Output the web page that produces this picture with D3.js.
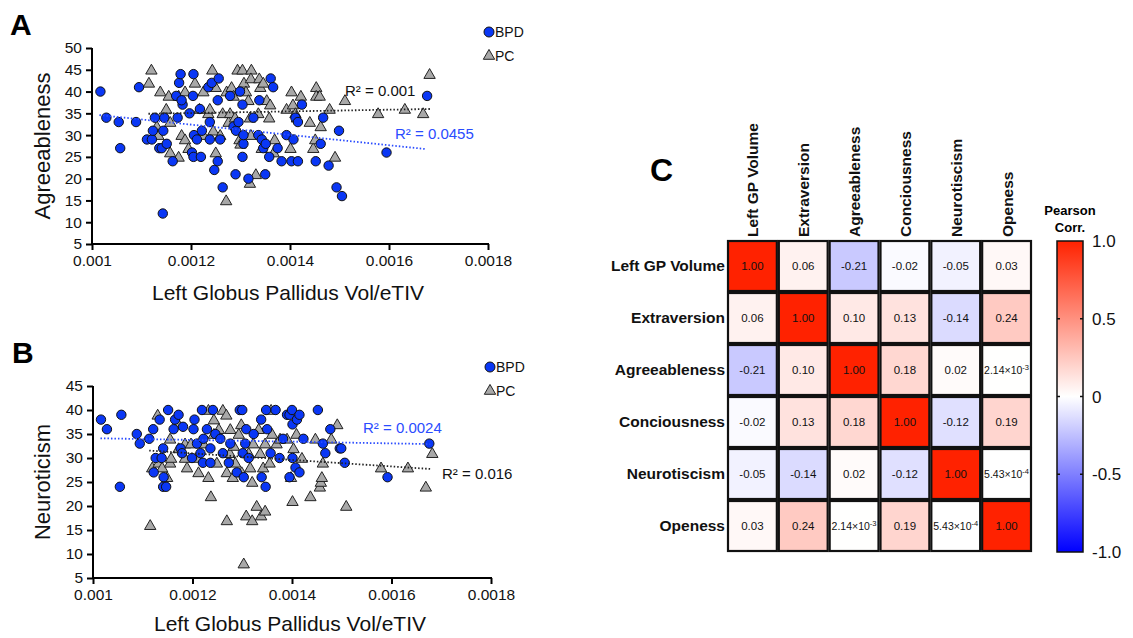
<!DOCTYPE html>
<html>
<head>
<meta charset="utf-8">
<script src="https://d3js.org/d3.v7.min.js"></script>
<style>
  body { margin: 0; background: #fff; }
  svg { font-family: "Liberation Sans", Arial, sans-serif; }
</style>
</head>
<body>
<svg width="1133" height="638"></svg>
<script>
// ---- data: panel A (Agreeableness vs Left GP Vol/eTIV) ----
const agreeBPD = [
  [0.001017,40],[0.001029,34],[0.001054,33],[0.001057,27],[0.001089,33],[0.001095,41],[0.001127,34],
  [0.001111,29],[0.001121,29],[0.001123,31],[0.001136,27],[0.001141,27],[0.001144,31],[0.001146,34],
  [0.001151,28],[0.001143,12],[0.001163,24],[0.001173,34],[0.001170,39],[0.001176,42],[0.001179,44],
  [0.001183,37],[0.001181,38],[0.001197,35],[0.001205,44],[0.001204,39],[0.001206,30],[0.001202,26],
  [0.001205,25],[0.001220,25],[0.001218,36],[0.001212,29],[0.001222,31],[0.001238,29],[0.001235,41],
  [0.001242,42],[0.001238,33],[0.001247,22],[0.001254,24],[0.001256,43],[0.001254,38],[0.001259,29],
  [0.001264,18],[0.001279,39],[0.001286,32],[0.001290,21],[0.001291,31],[0.001296,33],[0.001299,40],
  [0.001304,37],[0.001306,28],[0.001304,25],[0.001306,30],[0.001316,20],[0.001326,34],[0.001336,30],
  [0.001338,38],[0.001343,29],[0.001346,27],[0.001350,21],[0.001351,28],[0.001361,43],[0.001366,41],
  [0.001358,25],[0.001375,27],[0.001383,24],[0.001393,30],[0.001403,24],[0.001407,29],[0.001416,24],
  [0.001411,34],[0.001416,33],[0.001424,37],[0.001452,24],[0.001462,28],[0.001467,34],[0.001478,23],
  [0.001494,18],[0.001499,31],[0.001505,16],[0.001595,26],[0.001677,39]
];
const agreePC = [
  [0.001120,45],[0.001115,42],[0.001138,40],[0.001150,36],[0.001155,39],[0.001131,32],[0.001134,30],
  [0.001158,33],[0.001158,26],[0.001175,25],[0.001175,39],[0.001181,30],[0.001188,29],[0.001188,40],
  [0.001195,27],[0.001208,42],[0.001217,36],[0.001225,40],[0.001225,30],[0.001235,35],[0.001238,36],
  [0.001243,45],[0.001245,31],[0.001250,41],[0.001250,26],[0.001259,30],[0.001264,35],[0.001271,15],
  [0.001272,40],[0.001276,33],[0.001279,35],[0.001282,41],[0.001286,39],[0.001289,34],[0.001294,45],
  [0.001298,29],[0.001300,28],[0.001304,45],[0.001307,42],[0.001311,40],[0.001316,38],[0.001319,34],
  [0.001319,19],[0.001321,30],[0.001322,45],[0.001321,43],[0.001331,21],[0.001336,35],[0.001338,43],
  [0.001340,41],[0.001343,27],[0.001346,42],[0.001353,38],[0.001358,34],[0.001360,37],[0.001367,26],
  [0.001369,29],[0.001393,36],[0.001401,27],[0.001403,40],[0.001406,37],[0.001411,35],[0.001414,34],
  [0.001422,39],[0.001440,33],[0.001447,27],[0.001451,29],[0.001453,41],[0.001453,39],[0.001460,39],
  [0.001462,32],[0.001480,36],[0.001491,25],[0.001511,38],[0.001578,35],[0.001632,36],[0.001669,35],
  [0.001682,44]
];
const agreeTrendBPD = [[0.001015,34.6],[0.001674,26.8]];
const agreeTrendPC  = [[0.001114,34.9],[0.001685,36.0]];

// ---- data: panel B (Neuroticism vs Left GP Vol/eTIV) ----
const neuroBPD = [
  [0.001016,38],[0.001028,36],[0.001057,39],[0.001054,24],[0.001088,35],[0.001094,33],[0.001113,34],
  [0.001121,36],[0.001126,30],[0.001122,27],[0.001134,38],[0.001138,30],[0.001141,32],[0.001142,26],
  [0.001141,24],[0.001147,24],[0.001151,40],[0.001162,36],[0.001165,38],[0.001172,39],[0.001176,32],
  [0.001179,31],[0.001181,36.5],[0.001199,30],[0.001202,36],[0.001204,38],[0.001209,33],[0.001216,31],
  [0.001219,40],[0.001221,29],[0.001229,36],[0.001236,32],[0.001241,40],[0.001246,35],[0.001236,29],
  [0.001256,34],[0.001261,31],[0.001273,29],[0.001276,33],[0.001289,27],[0.001295,40],[0.001300,40],
  [0.001301,31],[0.001303,26],[0.001306,33],[0.001308,36],[0.001313,30],[0.001323,35],[0.001338,38],
  [0.001339,26],[0.001347,24],[0.001348,40],[0.001350,36],[0.001357,31],[0.001367,40],[0.001375,30],
  [0.001382,34],[0.001390,39],[0.001395,39],[0.001400,40],[0.001401,37],[0.001401,30],[0.001395,26],
  [0.001407,28],[0.001410,38],[0.001415,39],[0.001415,27],[0.001423,34],[0.001452,40],[0.001462,33],
  [0.001467,31],[0.001477,36],[0.001496,32],[0.001499,32],[0.001506,29],[0.001592,26],[0.001676,33],
  [0.001222,34]
];
const neuroPC = [
  [0.001115,16],[0.001119,28],[0.001130,39],[0.001132,29],[0.001139,28],[0.001149,26],[0.001155,29],
  [0.001157,30],[0.001155,34],[0.001172,32],[0.001172,37],[0.001189,28],[0.001185,30],[0.001185,33],
  [0.001197,33],[0.001209,30],[0.001212,27],[0.001222,33],[0.001232,26],[0.001232,40],[0.001237,22],
  [0.001243,38],[0.001243,35],[0.001249,29],[0.001253,36],[0.001261,40],[0.001268,39],[0.001269,17],
  [0.001269,27],[0.001275,31],[0.001276,36],[0.001281,26],[0.001283,32.5],[0.001286,29],[0.001293,35],
  [0.001298,37],[0.001299,27],[0.001303,8],[0.001308,18],[0.001313,31],[0.001316,28],[0.001320,25],
  [0.001320,17],[0.001322,33],[0.001329,20],[0.001333,36],[0.001336,31],[0.001338,18],[0.001342,28],
  [0.001346,19],[0.001346,33],[0.001355,29],[0.001358,40],[0.001360,35],[0.001369,33],[0.001376,34],
  [0.001390,34],[0.001398,26],[0.001401,21],[0.001403,32],[0.001409,35],[0.001420,30],[0.001437,22],
  [0.001447,34],[0.001456,24],[0.001458,25],[0.001460,26],[0.001462,29],[0.001479,34],[0.001491,37],
  [0.001509,20],[0.001579,28],[0.001633,28],[0.001669,24],[0.001682,31]
];
const neuroTrendBPD = [[0.001015,34.1],[0.001678,32.9]];
const neuroTrendPC  = [[0.001113,31.55],[0.001680,27.7]];

const xTicks = [0.001, 0.0012, 0.0014, 0.0016, 0.0018];
const xTickLabels = ["0.001", "0.0012", "0.0014", "0.0016", "0.0018"];

// ---- data: panel C (correlation matrix) ----
const traits = ["Left GP Volume", "Extraversion", "Agreeableness", "Conciousness", "Neurotiscism", "Openess"];
const corr = [
  [1.00, 0.06, -0.21, -0.02, -0.05, 0.03],
  [0.06, 1.00, 0.10, 0.13, -0.14, 0.24],
  [-0.21, 0.10, 1.00, 0.18, 0.02, 2.14e-3],
  [-0.02, 0.13, 0.18, 1.00, -0.12, 0.19],
  [-0.05, -0.14, 0.02, -0.12, 1.00, 5.43e-4],
  [0.03, 0.24, 2.14e-3, 0.19, 5.43e-4, 1.00]
];
const barTicks = [1, 0.5, 0, -0.5, -1];
const barTickLabels = ["1.0", "0.5", "0", "-0.5", "-1.0"];

const svg = d3.select("svg");
const BLUE = "#0a37f5", GREY = "#a8a8a8";

function scatterPanel(o) {
  const g = svg.append("g");
  const x = d3.scaleLinear().domain([0.001, 0.0018]).range([o.x0, o.x1]);
  const y = d3.scaleLinear().domain(o.yDomain).range([o.y1, o.y0]);

  // axes
  const xAxis = d3.axisBottom(x).tickValues(xTicks).tickFormat((d, i) => xTickLabels[i]).tickSize(6).tickPadding(5);
  const yAxis = d3.axisLeft(y).tickValues(o.yTicks).tickSize(6).tickPadding(4);
  const gx = g.append("g").attr("transform", `translate(0,${o.y1})`).call(xAxis);
  const gy = g.append("g").attr("transform", `translate(${o.x0},0)`).call(yAxis);
  [gx, gy].forEach(a => {
    a.selectAll("line").attr("stroke", "#000").attr("stroke-width", 2);
    a.selectAll("text").attr("font-size", 15.5).attr("fill", "#111").attr("font-family", "Liberation Sans, Arial");
    a.select(".domain").remove();
  });
  g.append("line").attr("x1", o.x0).attr("x2", o.x1 + 1).attr("y1", o.y1).attr("y2", o.y1).attr("stroke", "#000").attr("stroke-width", 2);
  g.append("line").attr("x1", o.x0).attr("x2", o.x0).attr("y1", o.y0).attr("y2", o.y1 + 1).attr("stroke", "#000").attr("stroke-width", 2);

  // points
  const tri = d3.symbol().type(d3.symbolTriangle).size(56);
  g.append("g").selectAll("path").data(o.pc).join("path")
    .attr("d", tri)
    .attr("transform", d => `translate(${x(d[0])},${y(d[1]) + 1})`)
    .attr("fill", GREY).attr("stroke", "#222").attr("stroke-width", 1);
  g.append("g").selectAll("circle").data(o.bpd).join("circle")
    .attr("cx", d => x(d[0])).attr("cy", d => y(d[1])).attr("r", 4.7)
    .attr("fill", BLUE).attr("stroke", "#111").attr("stroke-width", 1);

  // trend lines
  const line = d3.line().x(d => x(d[0])).y(d => y(d[1]));
  g.append("path").attr("d", line(o.trendPC)).attr("stroke", "#222").attr("stroke-width", 1.8)
    .attr("stroke-dasharray", "1.5,2").attr("fill", "none");
  g.append("path").attr("d", line(o.trendBPD)).attr("stroke", "#2a4cff").attr("stroke-width", 1.8)
    .attr("stroke-dasharray", "1.5,2").attr("fill", "none");

  // R2 labels
  o.r2.forEach(r => {
    g.append("text").attr("x", r.x).attr("y", r.y).attr("font-size", 15).attr("fill", r.color).text(r.text);
  });

  // axis titles
  g.append("text").attr("x", (o.x0 + o.x1) / 2 - 2).attr("y", o.xTitleY).attr("text-anchor", "middle")
    .attr("font-size", 21).attr("fill", "#111").text("Left Globus Pallidus Vol/eTIV");
  g.append("text").attr("transform", `translate(${o.yTitleX},${(o.y0 + o.y1) / 2}) rotate(-90)`)
    .attr("text-anchor", "middle").attr("font-size", 22).attr("fill", "#111").text(o.yTitle);

  // legend
  g.append("circle").attr("cx", o.legX).attr("cy", o.legY).attr("r", 5).attr("fill", BLUE).attr("stroke", "#111");
  g.append("text").attr("x", o.legX + 6).attr("y", o.legY + 5).attr("font-size", 14).attr("fill", "#111").text("BPD");
  g.append("path").attr("d", d3.symbol().type(d3.symbolTriangle).size(56))
    .attr("transform", `translate(${o.legX},${o.legY + 24})`).attr("fill", GREY).attr("stroke", "#222");
  g.append("text").attr("x", o.legX + 6).attr("y", o.legY + 29).attr("font-size", 14).attr("fill", "#111").text("PC");

  // panel letter
  g.append("text").attr("x", o.letterX).attr("y", o.letterY).attr("font-size", 30).attr("font-weight", "bold")
    .attr("fill", "#000").text(o.letter);
}

scatterPanel({
  letter: "A", letterX: 10, letterY: 35,
  x0: 92, x1: 488, y0: 48, y1: 244, yDomain: [5, 50], yTicks: d3.range(5, 51, 5),
  bpd: agreeBPD, pc: agreePC, trendBPD: agreeTrendBPD, trendPC: agreeTrendPC,
  r2: [{ x: 345, y: 96, text: "R² = 0.001", color: "#111" }, { x: 395, y: 139, text: "R² = 0.0455", color: "#2a4cff" }],
  yTitle: "Agreeableness", yTitleX: 50, xTitleY: 300,
  legX: 489, legY: 32
});

scatterPanel({
  letter: "B", letterX: 12, letterY: 363,
  x0: 93, x1: 491, y0: 386, y1: 578, yDomain: [5, 45], yTicks: d3.range(5, 46, 5),
  bpd: neuroBPD, pc: neuroPC, trendBPD: neuroTrendBPD, trendPC: neuroTrendPC,
  r2: [{ x: 363, y: 433, text: "R² = 0.0024", color: "#2a4cff" }, { x: 442, y: 479, text: "R² = 0.016", color: "#111" }],
  yTitle: "Neuroticism", yTitleX: 50, xTitleY: 631,
  legX: 490, legY: 367
});

// ---- panel C: heatmap ----
const hm = { x0: 727, x1: 1032, y0: 240, y1: 552 };
const cx = d3.scaleBand().domain(traits).range([hm.x0, hm.x1]);
const cy = d3.scaleBand().domain(traits).range([hm.y0, hm.y1]);
const color = d3.scaleLinear().domain([-1, 0, 1]).range(["#0000ff", "#ffffff", "#ff2200"]);
const hg = svg.append("g");

const cells = [];
corr.forEach((row, i) => row.forEach((v, j) => cells.push({ r: traits[i], c: traits[j], v })));

hg.selectAll("rect.cell").data(cells).join("rect").attr("class", "cell")
  .attr("x", d => cx(d.c) + 1).attr("y", d => cy(d.r) + 1)
  .attr("width", cx.bandwidth() - 2).attr("height", cy.bandwidth() - 2)
  .attr("fill", d => color(d.v)).attr("stroke", "#111").attr("stroke-width", 2.2);

const ct = hg.selectAll("text.val").data(cells).join("text").attr("class", "val")
  .attr("x", d => cx(d.c) + cx.bandwidth() / 2).attr("y", d => cy(d.r) + cy.bandwidth() / 2 + 4)
  .attr("text-anchor", "middle").attr("font-size", 11.5).attr("fill", "#111");
ct.each(function (d) {
  const t = d3.select(this);
  if (Math.abs(d.v) < 0.01) {
    const [m, e] = d.v.toExponential(2).split("e");
    t.attr("font-size", 10.5);
    t.append("tspan").text(m + "×10");
    t.append("tspan").attr("dy", -4).attr("font-size", 7.5).text(String(+e));
  } else {
    t.text(d.v.toFixed(2));
  }
});

// row labels
hg.selectAll("text.row").data(traits).join("text").attr("class", "row")
  .attr("x", hm.x0 - 2).attr("y", d => cy(d) + cy.bandwidth() / 2 + 5)
  .attr("text-anchor", "end").attr("font-size", 15.5).attr("font-weight", "bold").attr("fill", "#111").text(d => d);
// column labels
hg.selectAll("text.col").data(traits).join("text").attr("class", "col")
  .attr("transform", d => `translate(${cx(d) + cx.bandwidth() / 2 + 6},${hm.y0 - 3}) rotate(-90)`)
  .attr("text-anchor", "start").attr("font-size", 15.5).attr("font-weight", "bold").attr("fill", "#111").text(d => d);

hg.append("text").attr("x", 650).attr("y", 181).attr("font-size", 32).attr("font-weight", "bold").text("C");

// color bar
const bar = { x0: 1057, x1: 1083, y0: 241, y1: 552 };
const by = d3.scaleLinear().domain([-1, 1]).range([bar.y1, bar.y0]);
const defs = svg.append("defs");
const grad = defs.append("linearGradient").attr("id", "cbar").attr("x1", 0).attr("y1", 1).attr("x2", 0).attr("y2", 0);
[-1, 0, 1].forEach(v => grad.append("stop").attr("offset", (v + 1) / 2).attr("stop-color", color(v)));
hg.append("rect").attr("x", bar.x0).attr("y", bar.y0).attr("width", bar.x1 - bar.x0).attr("height", bar.y1 - bar.y0)
  .attr("fill", "url(#cbar)").attr("stroke", "#111").attr("stroke-width", 1.5);
hg.selectAll("line.bt").data(barTicks.filter(v => Math.abs(v) < 1)).join("line").attr("class", "bt")
  .attr("x1", bar.x0).attr("x2", bar.x0 + 3).attr("y1", d => by(d)).attr("y2", d => by(d)).attr("stroke", "#111").attr("stroke-width", 1.5);
hg.selectAll("line.bt2").data(barTicks.filter(v => Math.abs(v) < 1)).join("line").attr("class", "bt2")
  .attr("x1", bar.x1 - 3).attr("x2", bar.x1).attr("y1", d => by(d)).attr("y2", d => by(d)).attr("stroke", "#111").attr("stroke-width", 1.5);
hg.selectAll("text.bl").data(barTicks).join("text").attr("class", "bl")
  .attr("x", bar.x1 + 9).attr("y", d => by(d) + 6).attr("font-size", 17).attr("fill", "#111")
  .text((d, i) => barTickLabels[i]);
hg.append("text").attr("x", 1070).attr("y", 215).attr("text-anchor", "middle").attr("font-size", 13)
  .attr("font-weight", "bold").text("Pearson");
hg.append("text").attr("x", 1070).attr("y", 232).attr("text-anchor", "middle").attr("font-size", 13)
  .attr("font-weight", "bold").text("Corr.");
</script>
</body>
</html>
